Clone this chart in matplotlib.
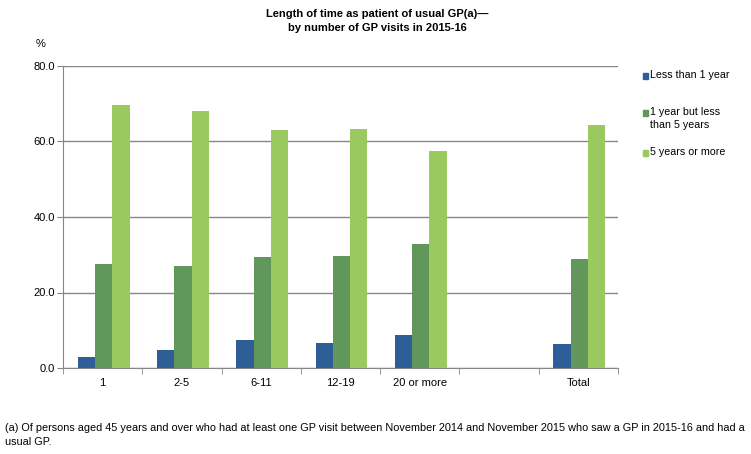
import numpy as np
import matplotlib.pyplot as plt
from matplotlib.patches import Rectangle

plt.rcParams["font.family"] = ["Liberation Sans", "DejaVu Sans"]

# data
categories = ["1", "2-5", "6-11", "12-19", "20 or more", "", "Total"]
less_1yr = [2.9, 4.8, 7.4, 6.6, 8.7, np.nan, 6.4]
yr_1_to_5 = [27.5, 27.0, 29.4, 29.7, 32.8, np.nan, 28.9]
yr_5_plus = [69.7, 68.1, 63.0, 63.3, 57.5, np.nan, 64.4]
series_names = ["Less than 1 year", "1 year but less\nthan 5 years", "5 years or more"]
colors = ["#2E5E98", "#62975C", "#99C95F"]

fig = plt.figure(figsize=(7.51, 4.54), dpi=100)
ax = fig.add_axes([63 / 751, 1 - 368 / 454, (618 - 63) / 751, (368 - 66) / 454])

x = np.arange(len(categories))
w = 0.218
for i, vals in enumerate([less_1yr, yr_1_to_5, yr_5_plus]):
    ax.bar(x + (i - 1) * w + 0.012, vals, width=w, color=colors[i], zorder=3)

ax.set_xlim(-0.5, len(categories) - 0.5)
ax.set_ylim(0, 80)
ax.set_yticks([0, 20, 40, 60, 80])
ax.set_yticklabels([f"{v:.1f}" for v in [0, 20, 40, 60, 80]], fontsize=8)
ax.yaxis.grid(True, color="#868686", linewidth=1, zorder=0)

# category labels centred, tick marks between categories
ax.set_xticks(x)
ax.set_xticklabels(categories, fontsize=8)
ax.tick_params(axis="x", length=0, pad=7)
ax.set_xticks(np.arange(-0.5, len(categories)), minor=True)
ax.tick_params(axis="x", which="minor", length=4, color="#868686", direction="out")
ax.tick_params(axis="y", length=4, color="#868686", direction="out", pad=2)

for s in ["top", "right"]:
    ax.spines[s].set_visible(False)
for s in ["left", "bottom"]:
    ax.spines[s].set_color("#868686")

fig.text(0.502, 1 - 21 / 454, "Length of time as patient of usual GP(a)\u2014\nby number of GP visits in 2015-16",
         ha="center", va="center", fontsize=8, fontweight="bold", linespacing=1.4)
fig.text(36 / 751, 1 - 44 / 454, "%", ha="left", va="center", fontsize=8)

# legend: small squares with labels
leg_y = [76, 113, 153]
for name, c, yy in zip(series_names, colors, leg_y):
    fig.patches.append(Rectangle((643 / 751, 1 - (yy + 3) / 454), 5 / 751, 6 / 454,
                                 transform=fig.transFigure, color=c))
    fig.text(650 / 751, 1 - (yy - 6) / 454, name, ha="left", va="top", fontsize=7.7,
             linespacing=1.35)

fig.text(5 / 751, 1 - 435 / 454,
         "(a) Of persons aged 45 years and over who had at least one GP visit between November 2014 and November 2015 who saw a GP in 2015-16 and had a\nusual GP.",
         ha="left", va="center", fontsize=7.8, linespacing=1.45)

fig.savefig("out.png", dpi=100)
